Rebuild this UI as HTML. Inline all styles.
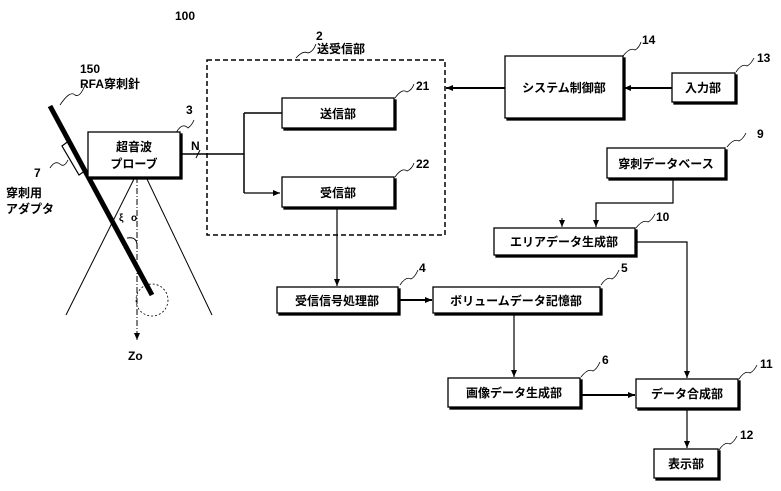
<!DOCTYPE html>
<html><head><meta charset="utf-8"><style>
html,body{margin:0;padding:0;background:#fff;}
svg{display:block;}
text{font-family:"Liberation Sans","Noto Sans CJK JP",sans-serif;font-weight:bold;fill:#000;}
</style></head><body>
<svg width="781" height="491" viewBox="0 0 781 491" xmlns="http://www.w3.org/2000/svg">
<defs>
<marker id="a" markerWidth="8" markerHeight="8" refX="7" refY="4" orient="auto" markerUnits="userSpaceOnUse">
<path d="M0,1 L7,4 L0,7 Z" fill="#000"/></marker>
</defs>
<g fill="none" stroke="#000">
<path d="M135,177 L66,315 M146,177 L212,315" stroke-width="1"/>
<path d="M137,177 L137,340" stroke-width="1" stroke-dasharray="6,2,1,2" marker-end="url(#a)"/>
<circle cx="152" cy="300" r="16" stroke-width="0.8" stroke-dasharray="2,2"/>
<path d="M127,238 Q138,236 137,248" stroke-width="1"/>
<path d="M50,106 L152,295" stroke-width="5"/>
<path d="M62,146 L70,140 L86,170 L79,175 Z" stroke-width="1.2"/>
<rect x="207" y="60" width="238" height="175" stroke-width="1.5" stroke-dasharray="5,3"/>
<path d="M181,154 L244,154 M244,113 L244,193 M244,113 L282,113" stroke-width="1.5"/>
<path d="M244,193 L280,193" stroke-width="1.2" marker-end="url(#a)"/>
<path d="M196,158 L200,150" stroke-width="1"/>
<path d="M337,208 L337,286" stroke-width="1.2" marker-end="url(#a)"/>
<path d="M399,300 L432,300" stroke-width="2" marker-end="url(#a)"/>
<path d="M505,88 L446,88" stroke-width="2" marker-end="url(#a)"/>
<path d="M672,88 L624,88" stroke-width="2" marker-end="url(#a)"/>
<path d="M673,178 L673,203 L596,203 L596,227" stroke-width="1.2" marker-end="url(#a)"/>
<path d="M562,218 L562,227" stroke-width="1" marker-end="url(#a)"/>
<path d="M636,242 L687,242 L687,378" stroke-width="1.2" marker-end="url(#a)"/>
<path d="M514,314 L514,377" stroke-width="1.2" marker-end="url(#a)"/>
<path d="M581,395 L635,395" stroke-width="2" marker-end="url(#a)"/>
<path d="M687,409 L687,448" stroke-width="1.2" marker-end="url(#a)"/>
<path d="M60,105 Q70,90 75,95 Q80,98 85,85" stroke-width="0.8"/>
<path d="M50,168 Q55,160 60,164 Q64,168 68,160" stroke-width="0.8"/>
<path d="M176,133 Q182,122 188,128 Q192,125 194,120" stroke-width="0.8"/>
<path d="M296,58 Q303,50 308,53 Q313,52 316,44" stroke-width="0.8"/>
<path d="M395,98 Q402,88 407,92 Q412,90 414,84" stroke-width="0.8"/>
<path d="M395,177 Q402,167 407,171 Q412,169 414,163" stroke-width="0.8"/>
<path d="M400,285 Q406,276 411,279 Q415,277 418,270" stroke-width="0.8"/>
<path d="M601,285 Q607,276 612,279 Q616,277 619,270" stroke-width="0.8"/>
<path d="M581,377 Q588,368 593,371 Q597,369 600,362" stroke-width="0.8"/>
<path d="M623,56 Q630,47 635,50 Q639,48 641,42" stroke-width="0.8"/>
<path d="M736,72 Q742,63 747,66 Q751,64 754,58" stroke-width="0.8"/>
<path d="M727,147 Q734,138 739,141 Q743,139 746,133" stroke-width="0.8"/>
<path d="M636,228 Q643,219 648,222 Q652,220 655,214" stroke-width="0.8"/>
<path d="M739,379 Q745,370 750,373 Q754,371 757,365" stroke-width="0.8"/>
<path d="M719,450 Q725,441 730,444 Q734,442 737,436" stroke-width="0.8"/>
</g>
<g stroke="#000" stroke-width="1.3">
<rect x="90" y="134" width="92" height="45" fill="#000"/><rect x="88" y="132" width="92" height="45" fill="#fff"/>
<rect x="284" y="100" width="112" height="30" fill="#000"/><rect x="282" y="98" width="112" height="30" fill="#fff"/>
<rect x="284" y="179" width="112" height="30" fill="#000"/><rect x="282" y="177" width="112" height="30" fill="#fff"/>
<rect x="279" y="289" width="121" height="26" fill="#000"/><rect x="277" y="287" width="121" height="26" fill="#fff"/>
<rect x="435" y="289" width="167" height="26" fill="#000"/><rect x="433" y="287" width="167" height="26" fill="#fff"/>
<rect x="507" y="58" width="118" height="62" fill="#000"/><rect x="505" y="56" width="118" height="62" fill="#fff"/>
<rect x="674" y="75" width="63" height="29" fill="#000"/><rect x="672" y="73" width="63" height="29" fill="#fff"/>
<rect x="609" y="150" width="118" height="30" fill="#000"/><rect x="607" y="148" width="118" height="30" fill="#fff"/>
<rect x="496" y="230" width="141" height="27" fill="#000"/><rect x="494" y="228" width="141" height="27" fill="#fff"/>
<rect x="450" y="380" width="132" height="29" fill="#000"/><rect x="448" y="378" width="132" height="29" fill="#fff"/>
<rect x="638" y="381" width="102" height="29" fill="#000"/><rect x="636" y="379" width="102" height="29" fill="#fff"/>
<rect x="656" y="451" width="64" height="29" fill="#000"/><rect x="654" y="449" width="64" height="29" fill="#fff"/>
</g>
<g font-size="12" text-anchor="middle">
<text x="134" y="151">超音波</text>
<text x="134" y="168">プローブ</text>
<text x="338" y="118">送信部</text>
<text x="338" y="197">受信部</text>
<text x="337" y="305">受信信号処理部</text>
<text x="516" y="305">ボリュームデータ記憶部</text>
<text x="564" y="92">システム制御部</text>
<text x="703" y="92">入力部</text>
<text x="666" y="168">穿刺データベース</text>
<text x="564" y="246">エリアデータ生成部</text>
<text x="514" y="397">画像データ生成部</text>
<text x="687" y="398">データ合成部</text>
<text x="686" y="468">表示部</text>
</g>
<g font-size="12">
<text x="175" y="20">100</text>
<text x="80" y="73">150</text>
<text x="80" y="88">RFA穿刺針</text>
<text x="186" y="114">3</text>
<text x="191" y="150" font-weight="normal">N</text>
<text x="34" y="177">7</text>
<text x="6" y="197">穿刺用</text>
<text x="6" y="213">アダプタ</text>
<text x="119" y="221" font-size="10">ξ</text>
<text x="131" y="221" font-size="10">o</text>
<text x="128" y="360">Zo</text>
<text x="316" y="40">2</text>
<text x="317" y="53">送受信部</text>
<text x="416" y="90">21</text>
<text x="416" y="168">22</text>
<text x="419" y="272">4</text>
<text x="621" y="272">5</text>
<text x="602" y="364">6</text>
<text x="642" y="44">14</text>
<text x="757" y="62">13</text>
<text x="757" y="138">9</text>
<text x="656" y="221">10</text>
<text x="760" y="368">11</text>
<text x="740" y="439">12</text>
</g>
</svg>
</body></html>
